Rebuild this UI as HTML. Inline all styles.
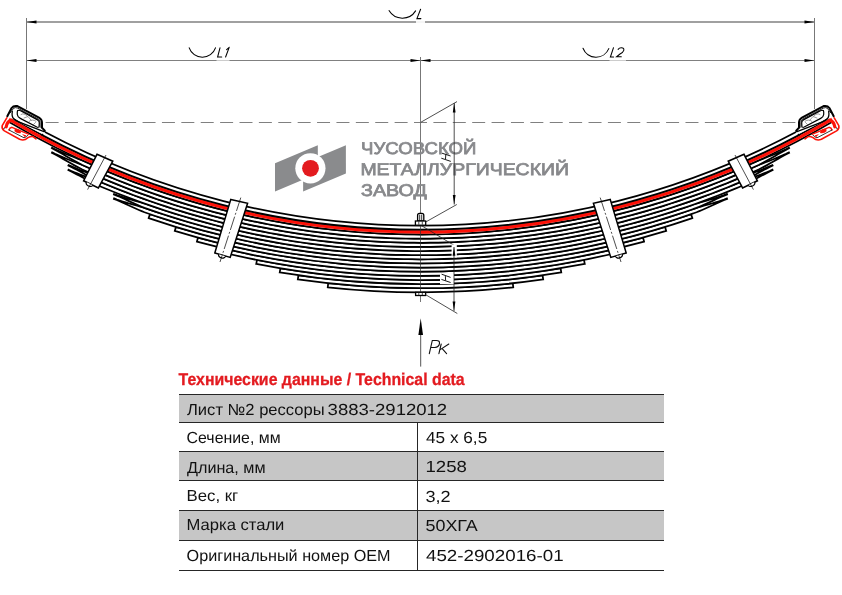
<!DOCTYPE html>
<html><head><meta charset="utf-8">
<style>
html,body{margin:0;padding:0;background:#fff;}
body{width:842px;height:595px;overflow:hidden;position:relative;}
svg{position:absolute;left:0;top:0;will-change:transform;}
text{font-family:"Liberation Sans",sans-serif;text-rendering:geometricPrecision;}
</style></head>
<body>
<svg width="842" height="595" viewBox="0 0 842 595">
<defs>
<marker id="ah" viewBox="0 0 10 4" refX="10" refY="2" markerWidth="10" markerHeight="4" markerUnits="userSpaceOnUse" orient="auto"><path d="M0 0.6L10 2L0 3.4Z" fill="#000"/></marker>
</defs>
<!-- dimension lines -->
<g stroke="#808080" stroke-width="1" fill="none">
<path d="M26.5 18V109M814.5 18V109" stroke="#777"/>
<path d="M26.5 22H814.5" stroke-width="1.3"/>
<path d="M26.5 60.5H814.5"/>
<path d="M420.5 57V302" stroke="#777"/>
<path d="M45.6 122.5H795.4" stroke-dasharray="13 6.39"/>
</g>
<!-- arrowheads -->
<g fill="#000">
<path d="M26.5 22L36.5 20.5L36.5 23.5Z"/>
<path d="M814.5 22L804.5 20.5L804.5 23.5Z"/>
<path d="M26.5 60.5L36.5 59L36.5 62Z"/>
<path d="M814.5 60.5L804.5 59L804.5 62Z"/>
<path d="M420.5 60.5L410.5 59L410.5 62Z"/>
<path d="M420.5 60.5L430.5 59L430.5 62Z"/>
</g>
<!-- logo -->
<g>
<path d="M275 163.3L317.8 145.2V173.5L275 191.6Z" fill="#8a8b8d"/>
<path d="M303.1 163.3L345.9 145.2V173.5L303.1 191.6Z" fill="#8a8b8d"/>
<circle cx="310.4" cy="168.3" r="15.1" fill="#fff"/>
<circle cx="310.5" cy="168.3" r="8.4" fill="#e31b1f"/>
<g fill="#87888b" stroke="#87888b" stroke-width="0.75" font-weight="400" font-size="16.9">
<text x="361" y="154.2" textLength="115.4" lengthAdjust="spacingAndGlyphs">ЧУСОВСКОЙ</text>
<text x="360.4" y="175.1" textLength="208.6" lengthAdjust="spacingAndGlyphs">МЕТАЛЛУРГИЧЕСКИЙ</text>
<text x="361" y="195.6" textLength="65.8" lengthAdjust="spacingAndGlyphs">ЗАВОД</text>
</g>
</g>
<!-- spring -->
<g>
<path d="M328.2 283.24A862.54 862.54 0 0 0 512.8 283.24L513.24 287.34A866.67 866.67 0 0 1 327.76 287.34Z" fill="#fff" stroke="#000" stroke-width="1.75"/>
<path d="M298.4 275.33A858.41 858.41 0 0 0 542.6 275.33L543.19 279.42A862.54 862.54 0 0 1 297.81 279.42Z" fill="#fff" stroke="#000" stroke-width="1.75"/>
<path d="M280.4 268.36A854.28 854.28 0 0 0 560.6 268.36L561.28 272.44A858.41 858.41 0 0 1 279.72 272.44Z" fill="#fff" stroke="#000" stroke-width="1.75"/>
<path d="M257 259.93A850.15 850.15 0 0 0 584 259.93L584.79 263.98A854.28 854.28 0 0 1 256.21 263.98Z" fill="#fff" stroke="#000" stroke-width="1.75"/>
<path d="M225 248.77A846.02 846.02 0 0 0 616 248.77L616.95 252.79A850.15 850.15 0 0 1 224.05 252.79Z" fill="#fff" stroke="#000" stroke-width="1.75"/>
<path d="M198 237.61A841.89 841.89 0 0 0 643 237.61L644.09 241.59A846.02 846.02 0 0 1 196.91 241.59Z" fill="#fff" stroke="#000" stroke-width="1.75"/>
<path d="M176 226.94A837.76 837.76 0 0 0 665 226.94L666.21 230.89A841.89 841.89 0 0 1 174.79 230.89Z" fill="#fff" stroke="#000" stroke-width="1.75"/>
<path d="M150 214.17A833.63 833.63 0 0 0 691 214.17L692.34 218.08A837.76 837.76 0 0 1 148.66 218.08Z" fill="#fff" stroke="#000" stroke-width="1.75"/>
<path d="M114.09 198.44L116.94 199.52L119.81 200.53L122.69 201.49L125.59 202.39L128.49 203.26L131.4 204.11L134.31 204.94L137.21 205.78L140.1 206.62L142.98 207.49L145.84 208.4L148.68 209.35L156.66 212.07L164.64 214.7L172.62 217.25L180.6 219.7L188.58 222.07L196.56 224.35L204.54 226.54L212.52 228.65L220.5 230.68L228.48 232.62L236.46 234.48L244.44 236.25L252.42 237.94L260.4 239.55L268.38 241.08L276.36 242.53L284.34 243.9L292.32 245.19L300.3 246.39L308.28 247.52L316.26 248.57L324.24 249.55L332.22 250.44L340.2 251.25L348.18 251.99L356.16 252.65L364.14 253.23L372.12 253.74L380.1 254.17L388.08 254.52L396.06 254.79L404.04 254.99L412.02 255.11L420 255.15L427.98 255.12L435.96 255.01L443.94 254.82L451.92 254.55L459.9 254.21L467.88 253.8L475.86 253.3L483.84 252.73L491.82 252.08L499.8 251.35L507.78 250.55L515.76 249.66L523.74 248.7L531.72 247.66L539.7 246.54L547.68 245.34L555.66 244.06L563.64 242.71L571.62 241.27L579.6 239.75L587.58 238.15L595.56 236.47L603.54 234.7L611.52 232.85L619.5 230.92L627.48 228.91L635.46 226.81L643.44 224.63L651.43 222.36L659.41 220L667.39 217.56L675.37 215.03L683.35 212.4L691.33 209.69L692.32 209.35L695.16 208.4L698.02 207.49L700.9 206.62L703.79 205.78L706.69 204.94L709.6 204.11L712.51 203.26L715.41 202.39L718.31 201.49L721.19 200.53L724.06 199.52L726.91 198.44L727.09 198.9L724.27 200.05L721.47 201.25L718.69 202.48L715.92 203.74L713.16 205.01L710.4 206.28L707.64 207.54L704.88 208.77L702.1 209.98L699.31 211.13L696.51 212.23L693.68 213.25L692.67 213.6L684.65 216.32L676.63 218.96L668.61 221.5L660.59 223.96L652.57 226.32L644.56 228.61L636.54 230.8L628.52 232.91L620.5 234.93L612.48 236.87L604.46 238.73L596.44 240.5L588.42 242.19L580.4 243.8L572.38 245.33L564.36 246.77L556.34 248.14L548.32 249.42L540.3 250.63L532.28 251.75L524.26 252.8L516.24 253.76L508.22 254.65L500.2 255.46L492.18 256.19L484.16 256.85L476.14 257.42L468.12 257.92L460.1 258.34L452.08 258.68L444.06 258.95L436.04 259.14L428.02 259.25L420 259.28L411.98 259.24L403.96 259.12L395.94 258.92L387.92 258.64L379.9 258.29L371.88 257.86L363.86 257.35L355.84 256.77L347.82 256.11L339.8 255.36L331.78 254.55L323.76 253.65L315.74 252.67L307.72 251.62L299.7 250.48L291.68 249.27L283.66 247.97L275.64 246.6L267.62 245.14L259.6 243.61L251.58 241.99L243.56 240.29L235.54 238.5L227.52 236.64L219.5 234.69L211.48 232.65L203.46 230.53L195.44 228.33L187.42 226.03L179.4 223.65L171.38 221.19L163.36 218.63L155.34 215.99L147.32 213.25L144.49 212.23L141.69 211.13L138.9 209.98L136.12 208.77L133.36 207.54L130.6 206.28L127.84 205.01L125.08 203.74L122.31 202.48L119.53 201.25L116.73 200.05L113.91 198.9Z" fill="#fff" stroke="#000" stroke-width="1.75"/>
<path d="M114.09 193.99L116.94 195.08L119.81 196.1L122.69 197.06L125.59 197.97L128.5 198.85L131.4 199.7L134.31 200.54L137.21 201.38L140.1 202.23L142.98 203.11L145.84 204.02L148.68 204.98L156.66 207.71L164.64 210.36L172.62 212.92L180.6 215.39L188.58 217.77L196.56 220.06L204.54 222.27L212.52 224.39L220.5 226.42L228.48 228.37L236.46 230.24L244.44 232.02L252.42 233.72L260.4 235.34L268.38 236.88L276.36 238.34L284.34 239.71L292.32 241.01L300.3 242.22L308.28 243.36L316.26 244.41L324.24 245.39L332.22 246.29L340.2 247.1L348.18 247.85L356.16 248.51L364.14 249.09L372.12 249.6L380.1 250.03L388.08 250.38L396.06 250.66L404.04 250.86L412.02 250.98L420 251.02L427.98 250.99L435.96 250.88L443.94 250.69L451.92 250.42L459.9 250.08L467.88 249.66L475.86 249.16L483.84 248.59L491.82 247.93L499.8 247.2L507.78 246.39L515.76 245.5L523.74 244.54L531.72 243.49L539.7 242.37L547.68 241.16L555.66 239.88L563.64 238.51L571.62 237.07L579.6 235.54L587.58 233.93L595.56 232.24L603.54 230.47L611.52 228.61L619.5 226.67L627.48 224.65L635.46 222.54L643.44 220.34L651.42 218.06L659.4 215.69L667.38 213.23L675.36 210.69L683.34 208.05L691.32 205.32L692.32 204.98L695.16 204.02L698.02 203.11L700.9 202.23L703.79 201.38L706.69 200.54L709.6 199.7L712.5 198.85L715.41 197.97L718.31 197.06L721.19 196.1L724.06 195.08L726.91 193.99L727.09 194.46L724.27 195.61L721.47 196.82L718.69 198.06L715.92 199.32L713.16 200.6L710.4 201.87L707.65 203.14L704.88 204.38L702.1 205.58L699.32 206.74L696.51 207.85L693.68 208.88L692.68 209.22L684.66 211.96L676.64 214.61L668.62 217.17L660.6 219.64L652.58 222.02L644.56 224.32L636.54 226.52L628.52 228.64L620.5 230.68L612.48 232.63L604.46 234.49L596.44 236.28L588.42 237.98L580.4 239.59L572.38 241.13L564.36 242.58L556.34 243.95L548.32 245.24L540.3 246.45L532.28 247.58L524.26 248.64L516.24 249.61L508.22 250.5L500.2 251.31L492.18 252.05L484.16 252.7L476.14 253.28L468.12 253.78L460.1 254.2L452.08 254.55L444.06 254.82L436.04 255L428.02 255.12L420 255.15L411.98 255.11L403.96 254.99L395.94 254.79L387.92 254.51L379.9 254.16L371.88 253.72L363.86 253.21L355.84 252.63L347.82 251.96L339.8 251.22L331.78 250.39L323.76 249.49L315.74 248.51L307.72 247.45L299.7 246.31L291.68 245.09L283.66 243.79L275.64 242.4L267.62 240.94L259.6 239.4L251.58 237.77L243.56 236.06L235.54 234.27L227.52 232.39L219.5 230.43L211.48 228.38L203.46 226.25L195.44 224.03L187.42 221.73L179.4 219.34L171.38 216.86L163.36 214.29L155.34 211.63L147.32 208.88L144.49 207.85L141.68 206.74L138.9 205.58L136.12 204.38L133.35 203.14L130.6 201.87L127.84 200.6L125.08 199.32L122.31 198.06L119.53 196.82L116.73 195.61L113.91 194.46Z" fill="#fff" stroke="#000" stroke-width="1.75"/>
<path d="M68.61 169.69L71.45 170.99L74.33 172.22L77.22 173.39L80.13 174.51L83.05 175.6L85.97 176.66L88.89 177.71L91.8 178.76L94.71 179.81L97.59 180.89L100.46 182L103.3 183.16L111.28 186.45L119.26 189.64L127.24 192.74L135.22 195.75L143.2 198.66L151.18 201.47L159.16 204.2L167.14 206.83L175.12 209.37L183.1 211.83L191.08 214.19L199.06 216.47L207.04 218.66L215.02 220.77L223 222.79L230.98 224.72L238.96 226.57L246.94 228.34L254.92 230.02L262.9 231.63L270.88 233.14L278.86 234.58L286.84 235.94L294.82 237.22L302.8 238.41L310.78 239.53L318.76 240.56L326.74 241.52L334.72 242.4L342.7 243.2L350.68 243.92L358.66 244.56L366.64 245.12L374.62 245.61L382.6 246.01L390.58 246.34L398.56 246.6L406.54 246.77L414.52 246.87L422.49 246.89L430.47 246.83L438.45 246.69L446.43 246.48L454.41 246.19L462.39 245.82L470.37 245.37L478.35 244.85L486.33 244.25L494.31 243.57L502.29 242.81L510.27 241.97L518.25 241.05L526.23 240.05L534.21 238.98L542.19 237.82L550.17 236.59L558.15 235.27L566.13 233.87L574.11 232.4L582.09 230.83L590.07 229.19L598.05 227.47L606.03 225.66L614.01 223.77L621.99 221.79L629.97 219.73L637.95 217.58L645.93 215.34L653.91 213.02L661.89 210.61L669.87 208.11L677.85 205.52L685.83 202.85L693.81 200.08L701.79 197.21L709.77 194.26L717.75 191.21L725.73 188.06L733.71 184.82L737.7 183.16L740.54 182L743.41 180.89L746.29 179.81L749.2 178.76L752.11 177.71L755.03 176.66L757.95 175.6L760.87 174.51L763.78 173.39L766.67 172.22L769.55 170.99L772.39 169.69L772.61 170.14L769.79 171.5L767 172.92L764.22 174.36L761.46 175.82L758.72 177.3L755.97 178.78L753.22 180.24L750.47 181.68L747.71 183.08L744.93 184.44L742.12 185.74L739.3 186.97L735.29 188.63L727.27 191.89L719.25 195.06L711.23 198.12L703.21 201.09L695.19 203.97L687.17 206.75L679.15 209.45L671.13 212.05L663.11 214.56L655.09 216.98L647.07 219.31L639.05 221.56L631.03 223.72L623.01 225.79L614.99 227.78L606.97 229.68L598.95 231.5L590.93 233.23L582.91 234.88L574.89 236.45L566.87 237.94L558.85 239.34L550.83 240.67L542.81 241.91L534.79 243.07L526.77 244.15L518.75 245.15L510.73 246.07L502.71 246.92L494.69 247.68L486.67 248.36L478.65 248.97L470.63 249.5L462.61 249.95L454.59 250.32L446.57 250.61L438.55 250.82L430.53 250.96L422.51 251.02L414.48 251L406.46 250.9L398.44 250.73L390.42 250.47L382.4 250.14L374.38 249.73L366.36 249.24L358.34 248.68L350.32 248.03L342.3 247.31L334.28 246.5L326.26 245.62L318.24 244.66L310.22 243.62L302.2 242.5L294.18 241.3L286.16 240.01L278.14 238.65L270.12 237.21L262.1 235.68L254.08 234.07L246.06 232.38L238.04 230.6L230.02 228.74L222 226.8L213.98 224.77L205.96 222.65L197.94 220.45L189.92 218.16L181.9 215.78L173.88 213.31L165.86 210.76L157.84 208.11L149.82 205.37L141.8 202.54L133.78 199.62L125.76 196.6L117.74 193.49L109.72 190.28L101.7 186.97L98.88 185.74L96.07 184.44L93.29 183.08L90.53 181.68L87.78 180.24L85.03 178.78L82.28 177.3L79.54 175.82L76.78 174.36L74 172.92L71.21 171.5L68.39 170.14Z" fill="#fff" stroke="#000" stroke-width="1.75"/>
<path d="M68.61 165.12L71.46 166.42L74.33 167.66L77.22 168.84L80.13 169.97L83.05 171.07L85.97 172.14L88.89 173.19L91.81 174.25L94.71 175.31L97.6 176.4L100.46 177.52L103.3 178.68L111.28 181.99L119.26 185.21L127.24 188.32L135.22 191.34L143.2 194.27L151.18 197.1L159.16 199.84L167.14 202.49L175.12 205.05L183.1 207.51L191.08 209.89L199.06 212.18L207.04 214.39L215.02 216.5L223 218.53L230.98 220.48L238.96 222.34L246.94 224.11L254.92 225.81L262.9 227.42L270.88 228.94L278.86 230.39L286.84 231.75L294.82 233.04L302.8 234.24L310.78 235.36L318.76 236.4L326.74 237.36L334.72 238.24L342.7 239.05L350.68 239.77L358.66 240.42L366.64 240.98L374.62 241.47L382.6 241.88L390.58 242.21L398.56 242.47L406.54 242.64L414.52 242.74L422.49 242.76L430.47 242.7L438.45 242.56L446.43 242.35L454.41 242.06L462.39 241.69L470.37 241.24L478.35 240.71L486.33 240.1L494.31 239.42L502.29 238.66L510.27 237.81L518.25 236.89L526.23 235.89L534.21 234.81L542.19 233.65L550.17 232.41L558.15 231.08L566.13 229.68L574.11 228.19L582.09 226.62L590.07 224.97L598.05 223.24L606.03 221.42L614.01 219.52L621.99 217.53L629.97 215.45L637.95 213.29L645.93 211.05L653.91 208.71L661.89 206.29L669.87 203.78L677.85 201.18L685.83 198.48L693.81 195.7L701.79 192.82L709.77 189.84L717.75 186.78L725.73 183.61L733.71 180.35L737.7 178.68L740.54 177.52L743.4 176.4L746.29 175.31L749.19 174.25L752.11 173.19L755.03 172.14L757.95 171.07L760.87 169.97L763.78 168.84L766.67 167.66L769.54 166.42L772.39 165.12L772.61 165.57L769.79 166.94L767 168.36L764.22 169.81L761.47 171.28L758.72 172.77L755.97 174.25L753.23 175.72L750.47 177.17L747.71 178.58L744.93 179.94L742.13 181.25L739.3 182.49L735.29 184.16L727.27 187.44L719.25 190.62L711.23 193.71L703.21 196.69L695.19 199.59L687.17 202.39L679.15 205.1L671.13 207.71L663.11 210.24L655.09 212.67L647.07 215.02L639.05 217.28L631.03 219.45L623.01 221.53L614.99 223.53L606.97 225.44L598.95 227.27L590.93 229.01L582.91 230.67L574.89 232.25L566.87 233.74L558.85 235.15L550.83 236.48L542.81 237.73L534.79 238.9L526.77 239.99L518.75 240.99L510.73 241.92L502.71 242.77L494.69 243.53L486.67 244.22L478.65 244.83L470.63 245.36L462.61 245.81L454.59 246.18L446.57 246.48L438.55 246.69L430.53 246.83L422.51 246.89L414.48 246.87L406.46 246.77L398.44 246.59L390.42 246.34L382.4 246.01L374.38 245.59L366.36 245.1L358.34 244.53L350.32 243.89L342.3 243.16L334.28 242.35L326.26 241.47L318.24 240.5L310.22 239.45L302.2 238.33L294.18 237.12L286.16 235.83L278.14 234.46L270.12 233L262.1 231.47L254.08 229.85L246.06 228.15L238.04 226.36L230.02 224.49L222 222.54L213.98 220.5L205.96 218.37L197.94 216.16L189.92 213.86L181.9 211.46L173.88 208.98L165.86 206.41L157.84 203.75L149.82 201L141.8 198.15L133.78 195.21L125.76 192.18L117.74 189.04L109.72 185.81L101.7 182.49L98.87 181.25L96.07 179.94L93.29 178.58L90.53 177.17L87.77 175.72L85.03 174.25L82.28 172.77L79.53 171.28L76.78 169.81L74 168.36L71.21 166.94L68.39 165.57Z" fill="#fff" stroke="#000" stroke-width="1.75"/>
<path d="M52.11 152.41L54.96 153.81L57.84 155.13L60.74 156.4L63.65 157.62L66.57 158.8L69.5 159.96L72.42 161.1L75.34 162.24L78.25 163.39L81.14 164.56L84.01 165.76L86.85 167.01L94.83 170.55L102.81 173.99L110.79 177.32L118.77 180.56L126.75 183.7L134.73 186.75L142.71 189.7L150.69 192.55L158.67 195.31L166.64 197.98L174.62 200.56L182.6 203.04L190.58 205.44L198.56 207.75L206.54 209.97L214.52 212.1L222.5 214.15L230.48 216.11L238.46 217.99L246.44 219.78L254.42 221.49L262.4 223.11L270.38 224.65L278.36 226.11L286.34 227.48L294.32 228.78L302.3 229.99L310.28 231.12L318.26 232.18L326.24 233.15L334.22 234.04L342.2 234.85L350.18 235.58L358.16 236.24L366.14 236.81L374.12 237.31L382.1 237.72L390.08 238.06L398.06 238.32L406.04 238.5L414.02 238.6L422 238.63L429.98 238.57L437.96 238.44L445.94 238.23L453.92 237.94L461.89 237.58L469.87 237.13L477.85 236.6L485.83 236L493.81 235.32L501.79 234.56L509.77 233.71L517.75 232.79L525.73 231.79L533.71 230.71L541.69 229.55L549.67 228.3L557.65 226.98L565.63 225.57L573.61 224.08L581.59 222.51L589.57 220.86L597.55 219.12L605.53 217.29L613.51 215.39L621.49 213.39L629.47 211.31L637.45 209.15L645.43 206.89L653.41 204.55L661.39 202.12L669.37 199.6L677.35 196.99L685.33 194.29L693.31 191.49L701.29 188.6L709.27 185.62L717.25 182.54L725.23 179.36L733.21 176.08L741.19 172.71L749.17 169.23L754.15 167.01L756.99 165.76L759.86 164.56L762.75 163.39L765.66 162.24L768.58 161.1L771.5 159.96L774.43 158.8L777.35 157.62L780.26 156.4L783.16 155.13L786.04 153.81L788.89 152.41L789.11 152.86L786.29 154.32L783.5 155.82L780.74 157.36L777.98 158.92L775.24 160.48L772.5 162.05L769.76 163.6L767.01 165.13L764.25 166.62L761.47 168.07L758.67 169.46L755.85 170.77L750.83 173.01L742.81 176.5L734.79 179.9L726.77 183.19L718.75 186.38L710.73 189.48L702.71 192.48L694.69 195.38L686.67 198.19L678.65 200.91L670.63 203.53L662.61 206.07L654.59 208.51L646.57 210.86L638.55 213.13L630.53 215.31L622.51 217.4L614.49 219.4L606.47 221.32L598.45 223.15L590.43 224.9L582.41 226.56L574.39 228.14L566.37 229.63L558.35 231.05L550.33 232.38L542.31 233.63L534.29 234.8L526.27 235.89L518.25 236.89L510.23 237.82L502.21 238.66L494.19 239.43L486.17 240.12L478.15 240.72L470.13 241.25L462.11 241.7L454.08 242.07L446.06 242.36L438.04 242.57L430.02 242.7L422 242.76L413.98 242.73L405.96 242.63L397.94 242.45L389.92 242.19L381.9 241.85L373.88 241.43L365.86 240.93L357.84 240.35L349.82 239.7L341.8 238.96L333.78 238.15L325.76 237.25L317.74 236.27L309.72 235.22L301.7 234.08L293.68 232.86L285.66 231.56L277.64 230.17L269.62 228.71L261.6 227.16L253.58 225.53L245.56 223.81L237.54 222.01L229.52 220.13L221.5 218.16L213.48 216.1L205.46 213.96L197.44 211.72L189.42 209.4L181.4 206.99L173.38 204.49L165.36 201.9L157.33 199.22L149.31 196.45L141.29 193.58L133.27 190.61L125.25 187.55L117.23 184.4L109.21 181.14L101.19 177.79L93.17 174.33L85.15 170.77L82.33 169.46L79.53 168.07L76.75 166.62L73.99 165.13L71.24 163.6L68.5 162.05L65.76 160.48L63.02 158.92L60.26 157.36L57.5 155.82L54.71 154.32L51.89 152.86Z" fill="#fff" stroke="#000" stroke-width="1.75"/>
<path d="M52.11 147.78L54.96 149.18L57.84 150.52L60.74 151.8L63.65 153.02L66.57 154.22L69.5 155.38L72.43 156.53L75.35 157.68L78.25 158.84L81.14 160.02L84.01 161.23L86.85 162.48L94.83 166.04L102.81 169.5L110.79 172.86L118.77 176.11L126.75 179.27L134.73 182.34L142.71 185.3L150.69 188.17L158.67 190.95L166.65 193.63L174.63 196.22L182.61 198.73L190.59 201.14L198.57 203.46L206.55 205.69L214.53 207.83L222.51 209.89L230.49 211.86L238.46 213.75L246.44 215.55L254.42 217.27L262.4 218.9L270.38 220.45L278.36 221.91L286.34 223.3L294.32 224.6L302.3 225.82L310.28 226.96L318.26 228.01L326.24 228.99L334.22 229.89L342.2 230.7L350.18 231.44L358.16 232.09L366.14 232.67L374.12 233.17L382.1 233.59L390.08 233.93L398.06 234.19L406.04 234.37L414.02 234.47L422 234.5L429.98 234.44L437.96 234.31L445.94 234.1L453.91 233.81L461.89 233.44L469.87 232.99L477.85 232.46L485.83 231.86L493.81 231.17L501.79 230.4L509.77 229.56L517.75 228.63L525.73 227.63L533.71 226.54L541.69 225.37L549.67 224.12L557.65 222.79L565.63 221.37L573.61 219.88L581.59 218.3L589.57 216.63L597.55 214.89L605.53 213.05L613.51 211.13L621.49 209.13L629.47 207.04L637.45 204.86L645.43 202.6L653.41 200.24L661.39 197.8L669.36 195.26L677.34 192.64L685.32 189.92L693.3 187.11L701.28 184.2L709.26 181.2L717.24 178.1L725.22 174.9L733.2 171.61L741.18 168.21L749.16 164.72L754.15 162.48L756.99 161.23L759.86 160.02L762.75 158.84L765.65 157.68L768.57 156.53L771.5 155.38L774.43 154.22L777.35 153.02L780.26 151.8L783.16 150.52L786.04 149.18L788.89 147.78L789.11 148.22L786.3 149.69L783.51 151.21L780.74 152.75L777.98 154.32L775.24 155.89L772.5 157.47L769.76 159.03L767.01 160.57L764.25 162.07L761.48 163.52L758.68 164.92L755.85 166.24L750.84 168.49L742.82 172.01L734.8 175.42L726.78 178.73L718.76 181.94L710.74 185.06L702.72 188.07L694.7 190.99L686.68 193.82L678.66 196.55L670.64 199.19L662.61 201.74L654.59 204.2L646.57 206.56L638.55 208.84L630.53 211.03L622.51 213.13L614.49 215.15L606.47 217.07L598.45 218.92L590.43 220.67L582.41 222.34L574.39 223.93L566.37 225.44L558.35 226.86L550.33 228.2L542.31 229.45L534.29 230.63L526.27 231.72L518.25 232.73L510.23 233.66L502.21 234.51L494.19 235.28L486.17 235.97L478.15 236.58L470.13 237.11L462.11 237.56L454.09 237.94L446.06 238.23L438.04 238.44L430.02 238.57L422 238.63L413.98 238.6L405.96 238.5L397.94 238.32L389.92 238.05L381.9 237.71L373.88 237.29L365.86 236.79L357.84 236.21L349.82 235.55L341.8 234.81L333.78 233.99L325.76 233.09L317.74 232.11L309.72 231.05L301.7 229.9L293.68 228.68L285.66 227.37L277.64 225.98L269.62 224.51L261.6 222.95L253.58 221.31L245.56 219.58L237.54 217.77L229.51 215.88L221.49 213.9L213.47 211.83L205.45 209.67L197.43 207.43L189.41 205.1L181.39 202.67L173.37 200.16L165.35 197.55L157.33 194.86L149.31 192.07L141.29 189.18L133.27 186.2L125.25 183.12L117.23 179.95L109.21 176.67L101.19 173.3L93.17 169.82L85.15 166.24L82.32 164.92L79.52 163.52L76.75 162.07L73.99 160.57L71.24 159.03L68.5 157.47L65.76 155.89L63.02 154.32L60.26 152.75L57.49 151.21L54.7 149.69L51.89 148.22Z" fill="#fff" stroke="#000" stroke-width="1.75"/>
<path d="M12 118.14A804 804 0 0 0 829 118.14L831.46 122.32A808.85 808.85 0 0 1 9.54 122.32Z" fill="#fff" stroke="#000" stroke-width="1.75"/>
<path d="M9 119.1A806.35 806.35 0 0 0 832 119.1" fill="none" stroke="#fd1208" stroke-width="3.3"/>
<path d="M44 131.52A800 800 0 0 0 797 131.52L798.88 135.05A804 804 0 0 1 42.12 135.05Z" fill="#fff" stroke="#000" stroke-width="1.75"/>
</g>
<!-- half details (left), mirrored for right -->
<g id="half">
<!-- eye -->
<g fill="none" stroke-linejoin="round" stroke-linecap="round">
<path d="M10 118Q11 114 12.5 112Q11.8 117 14 119.3Q16 121 19 122.2L45 132.4L45 135Z" fill="#fff" stroke="none"/>
<path d="M7.3 116.2L11.6 108Q13.6 105.3 17.4 106.1L39 117.6Q42 119.4 42 122.7L42 127.8L44.8 130.6" stroke="#000" stroke-width="2"/>
<path d="M10.2 112.8L13.6 108.3Q15.4 107 17.6 108.1L38.4 119.2Q40.1 120.4 40.1 123L40.1 127.4" stroke="#000" stroke-width="0.9"/>
<path d="M17.6 110.6Q19.2 109.8 21 110.9L37.6 119.9Q39.4 121 39.3 123L39.1 126.4Q38.6 127.8 36.8 127L20.3 118.4Q17.6 117 17.3 114.5Q17.1 111.6 17.6 110.6Z" stroke="#000" stroke-width="1.2" fill="#fff"/>
<path d="M21 114.5Q24 112.5 27 116M24 118L28 116.5L31 120M29 121.5Q32 118.5 36 121.3M33 125L35.5 122.5" stroke="#555" stroke-width="0.6"/>
<path d="M12.3 111.5Q11.5 116.5 13.6 118.7Q15.2 120.5 18.6 121.9L44 131.6" stroke="#000" stroke-width="1.3"/>
<path d="M6.8 117.8L2.2 125.6Q1.4 128.6 4.4 130.9L19.6 139.3Q22.6 140.5 25.2 139.6L28 137.6Q30.4 136.3 33 136.6L36 138.8" stroke="#fd1208" stroke-width="1.6"/>
<path d="M5.2 127.2L4 128.6" stroke="#000" stroke-width="1"/>
<path d="M9 130Q9.5 127.6 12 127.3L28.5 134.2" stroke="#fd1208" stroke-width="1.4"/>
<path d="M9 130L24 137.8Q27 137 28 135.2" stroke="#000" stroke-width="0.8"/>
<path d="M11.5 120.3Q7.2 120.6 6.2 126.8" stroke="#fd1208" stroke-width="3.2"/>
</g>
<path d="M14.5 129.5Q17.5 127.8 20.3 130.5L21 133Q17 133.8 14.5 131.2Z" fill="#fd1208"/>
<path d="M22 134L26.5 135.4L25 137.3Z" fill="#fd1208"/>
<!-- clamps -->
<g stroke="#000" fill="#fff" stroke-width="1.5" stroke-linejoin="miter">
<path d="M97 154.3L112.8 161.2L98.4 187.9L83.6 180.8Z"/>
<path d="M230.8 199.4L247.6 203.2L230.2 257.4L214.8 253Z"/>
<path d="M86.4 182.1C84.9 185.2 91.3 188.3 92.8 185.2" stroke-width="1.2"/>
<path d="M218.7 254.2C217.7 257.8 224.6 259.8 225.6 256.2" stroke-width="1.2"/>
</g>
<path d="M106 155L87.6 189.6" stroke="#000" stroke-width="0.7"/>
<path d="M240.8 197.6L220 262" stroke="#000" stroke-width="0.7" stroke-dasharray="14 2 2 2"/>
</g>
<use href="#half" transform="translate(841 0) scale(-1 1)"/>
<path d="M420.5 226V292" stroke="#333" stroke-width="0.7"/>
<!-- center bolt -->
<g stroke="#000" fill="#fff" stroke-width="1.3">
<path d="M417.6 221V215.4Q417.6 213.3 419.5 213.3H421.9Q423.8 213.3 423.8 215.4V221Z"/>
<path d="M419.7 214.5V220.5M421.7 214.5V220.5" stroke-width="0.8"/>
<rect x="415.4" y="221" width="10.3" height="4.2"/>
<path d="M418.8 221.5V224.6M422.3 221.5V224.6" stroke-width="0.7"/>
<rect x="415.6" y="292.3" width="10" height="3.2"/>
<path d="M418.8 292.6V295.2M422.3 292.6V295.2" stroke-width="0.7"/>
</g>
<!-- H dims -->
<g stroke="#222" stroke-width="0.8" fill="none">
<path d="M420.6 122.4L457 101.6M425.7 222L456.8 204.5"/>
<path d="M454.2 103V204.5"/>
<path d="M421.6 225.7L455.5 246.2M425 294.3L457.3 313.5"/>
</g>
<rect x="451.6" y="244.5" width="5.2" height="13" fill="#fff"/>
<rect x="440" y="273" width="14" height="11.2" fill="#fff"/>
<path d="M454 247V311" stroke="#222" stroke-width="0.8"/>
<g fill="#000">
<path d="M454.2 103L452.8 112.6H455.6Z"/>
<path d="M454.2 204.5L452.8 195H455.6Z"/>
<path d="M454 247.1L452.6 255.7H455.4Z"/>
<path d="M454 310.7L452.6 301.4H455.4Z"/>
</g>
<g stroke="#000" stroke-width="0.9" fill="none">
<path d="M442 153.2L450.6 156M441.3 158.2L450.8 161.4M445.8 154.4L445.5 159"/>
<path d="M441.6 274.2L450.6 277.4M441.4 279.4L450.6 282.5M445.4 276.1L445.6 280.5"/>
</g>
<!-- Pk -->
<path d="M420.7 334V366.6" stroke="#555" stroke-width="1"/>
<path d="M420.7 318.3L418.4 335.1H423Z" fill="#000"/>
<g stroke="#111" stroke-width="1.1" fill="none" stroke-linecap="round">
<path d="M429.3 353.6L432.3 340.5H436.4Q439.9 340.5 439.5 343.4Q439 347.2 434.8 347.5H431.3"/>
<path d="M441.2 344L438.9 353.6M448.8 344L440.6 349.4M442.2 348.6L446.6 353.6"/>
</g>
<!-- L labels -->
<rect x="416" y="19" width="9" height="5" fill="#fff" opacity="0.9"/>
<rect x="216.5" y="58" width="13" height="5" fill="#fff" opacity="0.6"/>
<rect x="609.5" y="58" width="16.5" height="5" fill="#fff" opacity="0.6"/>
<g stroke="#000" stroke-width="1.05" fill="none" stroke-linecap="round">
<path d="M389 10.6A15.6 15.6 0 0 0 415.6 10.9"/>
<path d="M420.6 9.2L416.9 18.6H420.9"/>
<path d="M189.2 47.8A13.9 13.9 0 0 0 215.5 47.8"/>
<path d="M220 47.8L217.6 57H221.7"/>
<path d="M229.2 47.4L225.6 57M229.2 47.4L226.6 49.6"/>
<path d="M583 48.3A13.9 13.9 0 0 0 608.8 48.6"/>
<path d="M613.5 47.7L610.4 57H613.6"/>
<path d="M618.1 49.4Q619.4 47.6 621.4 47.7Q624.3 47.9 623.8 50.3Q623.2 52.2 620 54L616.6 56.8H621.3"/>
</g>
<!-- table -->
<g>
<rect x="179" y="394" width="485" height="28" fill="#c6c6c6"/>
<rect x="179" y="451" width="485" height="29" fill="#c6c6c6"/>
<rect x="179" y="510" width="485" height="30" fill="#c6c6c6"/>
<g stroke="#262626" stroke-width="1">
<path d="M179 394.5H664M179 422.5H664M179 451.5H664M179 480.5H664M179 510.5H664M179 540.5H664M179 570.5H664"/>
<path d="M417.5 422V570"/>
</g>
<text x="178.6" y="384.5" font-size="17" font-weight="700" fill="#e31b20" stroke="#e31b20" stroke-width="0.3" textLength="286" lengthAdjust="spacingAndGlyphs">Технические данные / Technical data</text>
<g font-size="16" fill="#111">
<text x="187" y="415" textLength="137.6" lengthAdjust="spacingAndGlyphs">Лист №2 рессоры</text>
<text x="327.6" y="415" textLength="119.6" lengthAdjust="spacingAndGlyphs">3883-2912012</text>
<text x="186.6" y="443" textLength="94" lengthAdjust="spacingAndGlyphs">Сечение, мм</text>
<text x="187" y="472.8" textLength="78.6" lengthAdjust="spacingAndGlyphs">Длина, мм</text>
<text x="186.6" y="501" textLength="51.6" lengthAdjust="spacingAndGlyphs">Вес, кг</text>
<text x="186.6" y="530.1" textLength="97.8" lengthAdjust="spacingAndGlyphs">Марка стали</text>
<text x="186.6" y="560.9" textLength="204" lengthAdjust="spacingAndGlyphs">Оригинальный номер OEM</text>
<text x="426" y="443.1" textLength="61.2" lengthAdjust="spacingAndGlyphs">45 x 6,5</text>
<text x="425.5" y="472.1" textLength="41.4" lengthAdjust="spacingAndGlyphs">1258</text>
<text x="425.5" y="501.5" textLength="25.2" lengthAdjust="spacingAndGlyphs">3,2</text>
<text x="425.5" y="530.9" textLength="52.3" lengthAdjust="spacingAndGlyphs">50ХГА</text>
<text x="426" y="560.8" textLength="137.6" lengthAdjust="spacingAndGlyphs">452-2902016-01</text>
</g>
</g>
</svg>
</body></html>
